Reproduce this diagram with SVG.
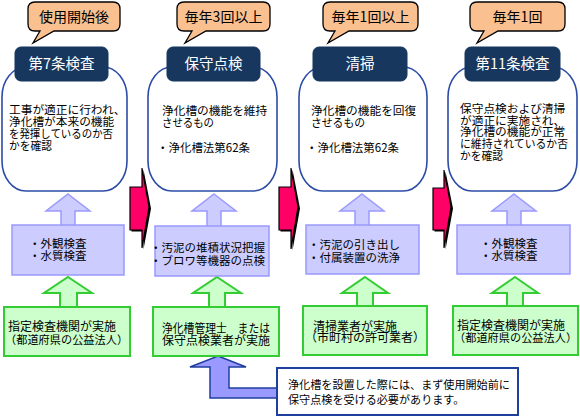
<svg xmlns="http://www.w3.org/2000/svg" width="580" height="416" viewBox="0 0 580 416">
<style>
text{font-family:"Noto Sans CJK JP","Noto Sans",sans-serif;fill:#000}
.call{fill:#FAC090;stroke:#000;stroke-width:1.3}
.calltxt{font-size:14px;text-anchor:middle}
.head{fill:#17375E;stroke:#17375E}
.headtxt{font-size:14.5px;fill:#fff;text-anchor:middle}
.body{fill:#fff;stroke:#2C4CA6;stroke-width:1.6}
.btxt{font-size:11.7px}
.pbox{fill:#CCCCFF;stroke:#9999FF;stroke-width:1.5}
.ptxt{font-size:11.5px}
.gbox{fill:#CCFFCC;stroke:#33CC33;stroke-width:2}
.gtxt{font-size:12px}
.gsm{font-size:11.2px}
.parr{fill:#CCCCFF;stroke:#9999FF;stroke-width:1.5}
.garr{fill:#CCFFCC;stroke:#33CC33;stroke-width:2}
.pink{fill:#FF0066;stroke:#000;stroke-width:1.2}
.shadow{fill:#000}
.barr{fill:#9999FF;stroke:#1F3F9F;stroke-width:1.5}
.note{fill:#fff;stroke:#1F3F9F;stroke-width:2}
.ntxt{font-size:11.1px}
</style>

<g id="connectors">
  <polygon class="shadow" points="131.5,188.5 143.5,188.5 143.5,169.5 151,208.5 143.5,249.5 143.5,231.5 131.5,231.5"/>
  <polygon class="pink" points="130,187 142,187 142,168 149,207 142,248 142,230 130,230"/>
  <polygon class="shadow" points="280.5,188.5 292.5,188.5 292.5,169.5 300,208.5 292.5,250.5 292.5,231.5 280.5,231.5"/>
  <polygon class="pink" points="279,187 291,187 291,168 298,207 291,249 291,230 279,230"/>
  <polygon class="shadow" points="434.5,189.5 445.5,189.5 445.5,171.5 453,208.5 445.5,249.5 445.5,231.5 434.5,231.5"/>
  <polygon class="pink" points="433,188 444,188 444,170 451,207 444,248 444,230 433,230"/>
  <polygon class="parr" points="68,194 90,211 75,211 75,226 61,226 61,211 46,211"/>
  <polygon class="parr" points="214,194 236,211 221,211 221,227 207,227 207,211 192,211"/>
  <polygon class="parr" points="362,194 384,211 369,211 369,226 355,226 355,211 340,211"/>
  <polygon class="parr" points="514,194 536,211 521,211 521,226 507,226 507,211 492,211"/>
  <polygon class="garr" points="68,277 92,293 77,293 77,308 60,308 60,293 44,293"/>
  <polygon class="garr" points="217,277 241,293 225,293 225,308 209,308 209,293 193,293"/>
  <polygon class="garr" points="365,277 388,293 373,293 373,307 357,307 357,293 342,293"/>
  <polygon class="garr" points="515,277 538,293 523,293 523,307 507,307 507,293 492,293"/>
  <polygon class="barr" points="218,356 246,367 229,367 229,388 278,388 278,398 210,398 210,367 190,367"/>
</g>

<g id="node-7jo">
  <path class="call" d="M35,2 H113 Q120,2 120,9 V24 Q120,31 113,31 H54 L33,43 L40,31 H35 Q28,31 28,24 V9 Q28,2 35,2 Z"/>
  <text class="calltxt" x="74" y="22">使用開始後</text>
  <rect class="body" x="2" y="67" width="125" height="124" rx="24" ry="30"/>
  <rect class="head" x="15" y="47" width="93" height="34" rx="6"/>
  <text class="headtxt" x="61.5" y="69">第7条検査</text>
  <text class="btxt"><tspan x="9" y="114">工事が適正に行われ、</tspan><tspan x="9" y="126">浄化槽が本来の機能</tspan><tspan x="9" y="138" textLength="104" lengthAdjust="spacingAndGlyphs">を発揮しているのか否</tspan><tspan x="9" y="150" textLength="43" lengthAdjust="spacingAndGlyphs">かを確認</tspan></text>
  <rect class="pbox" x="12" y="225" width="112" height="50"/>
  <text class="ptxt"><tspan x="29" y="248">・外観検査</tspan><tspan x="29" y="260">・水質検査</tspan></text>
  <rect class="gbox" x="4" y="307" width="126" height="49"/>
  <text class="gtxt"><tspan x="8" y="331">指定検査機関が実施</tspan><tspan class="gsm" x="5" y="343.5">（都道府県の公益法人）</tspan></text>
</g>

<g id="node-hoshu">
  <path class="call" d="M184,2 H263 Q270,2 270,9 V24 Q270,31 263,31 H206 L185,43 L192,31 H184 Q177,31 177,24 V9 Q177,2 184,2 Z"/>
  <text class="calltxt" x="223.5" y="22">毎年3回以上</text>
  <rect class="body" x="148" y="67" width="129" height="124" rx="24" ry="30"/>
  <rect class="head" x="167" y="47" width="93" height="34" rx="6"/>
  <text class="headtxt" x="213.5" y="69">保守点検</text>
  <text class="btxt"><tspan x="162" y="114.5">浄化槽の機能を維持</tspan><tspan x="162" y="126.5" textLength="52" lengthAdjust="spacingAndGlyphs">させるもの</tspan><tspan x="157" y="151.5" textLength="93" lengthAdjust="spacingAndGlyphs">・浄化槽法第62条</tspan></text>
  <rect class="pbox" x="155" y="226" width="114" height="50"/>
  <text class="ptxt"><tspan x="150" y="251.5">・汚泥の堆積状況把握</tspan><tspan x="150" y="264.5">・ブロワ等機器の点検</tspan></text>
  <rect class="gbox" x="153" y="307" width="126" height="49"/>
  <text class="gtxt"><tspan x="162" y="332.5" textLength="108" lengthAdjust="spacingAndGlyphs">浄化槽管理士　または</tspan><tspan x="162" y="344.5">保守点検業者が実施</tspan></text>
</g>

<g id="node-seiso">
  <path class="call" d="M330,2 H411 Q418,2 418,9 V24 Q418,31 411,31 H349 L328,43 L335,31 H330 Q323,31 323,24 V9 Q323,2 330,2 Z"/>
  <text class="calltxt" x="370.5" y="22">毎年1回以上</text>
  <rect class="body" x="299" y="67" width="128" height="124" rx="24" ry="30"/>
  <rect class="head" x="313" y="47" width="94" height="34" rx="6"/>
  <text class="headtxt" x="360" y="69">清掃</text>
  <text class="btxt"><tspan x="311" y="114.5">浄化槽の機能を回復</tspan><tspan x="311" y="126.5" textLength="54" lengthAdjust="spacingAndGlyphs">させるもの</tspan><tspan x="306" y="151.5" textLength="93" lengthAdjust="spacingAndGlyphs">・浄化槽法第62条</tspan></text>
  <rect class="pbox" x="306" y="225" width="113" height="49"/>
  <text class="ptxt"><tspan x="308" y="248.5">・汚泥の引き出し</tspan><tspan x="308" y="261.5">・付属装置の洗浄</tspan></text>
  <rect class="gbox" x="303" y="306" width="124" height="49"/>
  <text class="gtxt"><tspan x="313" y="330.5">清掃業者が実施</tspan><tspan x="305" y="342">（市町村の許可業者）</tspan></text>
</g>

<g id="node-11jo">
  <path class="call" d="M477,2 H558 Q565,2 565,9 V24 Q565,31 558,31 H498 L477,43 L484,31 H477 Q470,31 470,24 V9 Q470,2 477,2 Z"/>
  <text class="calltxt" x="517.5" y="22">毎年1回</text>
  <rect class="body" x="448" y="67" width="129" height="124" rx="24" ry="30"/>
  <rect class="head" x="465" y="47" width="95" height="34" rx="6"/>
  <text class="headtxt" x="512.5" y="69">第11条検査</text>
  <text class="btxt"><tspan x="460" y="113">保守点検および清掃</tspan><tspan x="460" y="124.7">が適正に実施され、</tspan><tspan x="460" y="136.4">浄化槽の機能が正常</tspan><tspan x="460" y="148.1" textLength="108" lengthAdjust="spacingAndGlyphs">に維持されているか否</tspan><tspan x="460" y="159.8" textLength="43" lengthAdjust="spacingAndGlyphs">かを確認</tspan></text>
  <rect class="pbox" x="457" y="225" width="113" height="49"/>
  <text class="ptxt"><tspan x="480" y="248">・外観検査</tspan><tspan x="480" y="260">・水質検査</tspan></text>
  <rect class="gbox" x="453" y="306" width="125" height="49"/>
  <text class="gtxt"><tspan x="457" y="330">指定検査機関が実施</tspan><tspan class="gsm" x="454" y="342">（都道府県の公益法人）</tspan></text>
</g>

<g id="node-note">
  <rect class="note" x="277" y="368" width="241" height="47"/>
  <text class="ntxt"><tspan x="288" y="389">浄化槽を設置した際には、まず使用開始前に</tspan><tspan x="288" y="404">保守点検を受ける必要があります。</tspan></text>
</g>
</svg>
